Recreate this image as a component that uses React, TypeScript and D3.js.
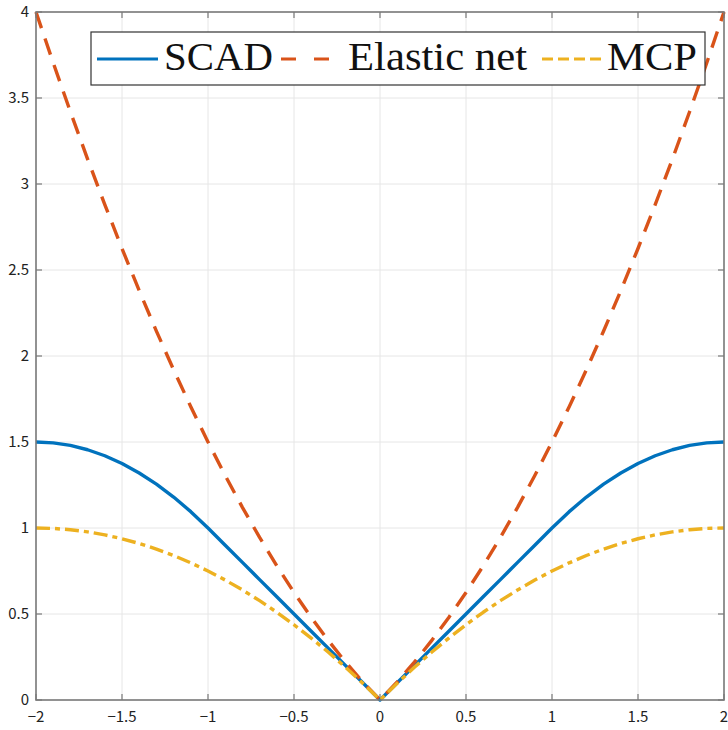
import React from "react";
import * as d3 from "d3";

const xs = [-2, -1.9, -1.8, -1.7, -1.6, -1.5, -1.4, -1.3, -1.2, -1.1, -1, -0.9, -0.8, -0.7, -0.6, -0.5, -0.4, -0.3, -0.2, -0.1, 0,
  0.1, 0.2, 0.3, 0.4, 0.5, 0.6, 0.7, 0.8, 0.9, 1, 1.1, 1.2, 1.3, 1.4, 1.5, 1.6, 1.7, 1.8, 1.9, 2];

const scad = [1.5, 1.495, 1.48, 1.455, 1.42, 1.375, 1.32, 1.255, 1.18, 1.095, 1, 0.9, 0.8, 0.7, 0.6, 0.5, 0.4, 0.3, 0.2, 0.1, 0,
  0.1, 0.2, 0.3, 0.4, 0.5, 0.6, 0.7, 0.8, 0.9, 1, 1.095, 1.18, 1.255, 1.32, 1.375, 1.42, 1.455, 1.48, 1.495, 1.5];

const elastic = [4, 3.705, 3.42, 3.145, 2.88, 2.625, 2.38, 2.145, 1.92, 1.705, 1.5, 1.305, 1.12, 0.945, 0.78, 0.625, 0.48, 0.345, 0.22, 0.105, 0,
  0.105, 0.22, 0.345, 0.48, 0.625, 0.78, 0.945, 1.12, 1.305, 1.5, 1.705, 1.92, 2.145, 2.38, 2.625, 2.88, 3.145, 3.42, 3.705, 4];

const mcp = [1, 0.9975, 0.99, 0.9775, 0.96, 0.9375, 0.91, 0.8775, 0.84, 0.7975, 0.75, 0.6975, 0.64, 0.5775, 0.51, 0.4375, 0.36, 0.2775, 0.19, 0.0975, 0,
  0.0975, 0.19, 0.2775, 0.36, 0.4375, 0.51, 0.5775, 0.64, 0.6975, 0.75, 0.7975, 0.84, 0.8775, 0.91, 0.9375, 0.96, 0.9775, 0.99, 0.9975, 1];

const xTicks = [-2, -1.5, -1, -0.5, 0, 0.5, 1, 1.5, 2];
const yTicks = [0, 0.5, 1, 1.5, 2, 2.5, 3, 3.5, 4];

const seriesNames = ["SCAD", "Elastic net", "MCP"];

export default function App() {
  const W = 728, H = 730;
  const left = 36, right = 724, top = 12, bottom = 700;
  const x = d3.scaleLinear().domain([-2, 2]).range([left, right]);
  const y = d3.scaleLinear().domain([0, 4]).range([bottom, top]);
  const line = (vals: number[]) =>
    d3.line<number>().x((_, i) => x(xs[i])).y((v) => y(v))(vals) || "";

  const fmt = (v: number) => (v < 0 ? "\u2212" + String(-v) : String(v));
  const axisColor = "#7a7a7a";
  const tickFont = "'Noto Sans CJK JP', 'Noto Sans', sans-serif";

  const series = [
    { name: seriesNames[0], vals: scad, color: "#0072BD", dash: "none", ldash: "none" },
    { name: seriesNames[1], vals: elastic, color: "#D95319", dash: "17,11", ldash: "15,18" },
    { name: seriesNames[2], vals: mcp, color: "#EDB120", dash: "14,5,5,5", ldash: "11,5" },
  ];

  const legend = [
    { x1: 97, x2: 158, tx: 164, tl: 109 },
    { x1: 281, x2: 329, tx: 348, tl: 179 },
    { x1: 542, x2: 602, tx: 607, tl: 90 },
  ];

  return (
    <svg width={W} height={H} style={{ position: "absolute", left: 0, top: 0, background: "#fff" }}>
      <rect x={0} y={0} width={W} height={H} fill="#fff" />
      {/* grid */}
      {xTicks.map((t) => (
        <line key={"gx" + t} x1={x(t)} x2={x(t)} y1={top} y2={bottom} stroke="#e6e6e6" strokeWidth={1} />
      ))}
      {yTicks.map((t) => (
        <line key={"gy" + t} x1={left} x2={right} y1={y(t)} y2={y(t)} stroke="#e6e6e6" strokeWidth={1} />
      ))}
      {/* ticks inward */}
      {xTicks.map((t) => (
        <g key={"tx" + t}>
          <line x1={x(t)} x2={x(t)} y1={bottom} y2={bottom - 6} stroke={axisColor} strokeWidth={1.2} />
          <line x1={x(t)} x2={x(t)} y1={top} y2={top + 6} stroke={axisColor} strokeWidth={1.2} />
        </g>
      ))}
      {yTicks.map((t) => (
        <g key={"ty" + t}>
          <line x1={left} x2={left + 6} y1={y(t)} y2={y(t)} stroke={axisColor} strokeWidth={1.2} />
          <line x1={right} x2={right - 6} y1={y(t)} y2={y(t)} stroke={axisColor} strokeWidth={1.2} />
        </g>
      ))}
      {/* curves */}
      {series.map((s) => (
        <path key={s.name} d={line(s.vals)} fill="none" stroke={s.color} strokeWidth={3.4}
          strokeDasharray={s.dash} strokeLinejoin="round" />
      ))}
      {/* frame */}
      <rect x={left} y={top} width={right - left} height={bottom - top} fill="none" stroke={axisColor} strokeWidth={1.6} />
      {/* tick labels */}
      {xTicks.map((t) => (
        <text key={"lx" + t} x={x(t)} y={722} textAnchor="middle" fontFamily={tickFont} fontSize={15} fill="#222">
          {fmt(t)}
        </text>
      ))}
      {yTicks.map((t) => (
        <text key={"ly" + t} x={29} y={y(t)} dy="0.35em" textAnchor="end" fontFamily={tickFont} fontSize={15} fill="#222">
          {fmt(t)}
        </text>
      ))}
      {/* legend */}
      <rect x={91} y={32} width={614} height={53} fill="#fff" stroke="#333" strokeWidth={1.2} />
      {series.map((s, i) => (
        <g key={"lg" + s.name}>
          <line x1={legend[i].x1} x2={legend[i].x2} y1={59} y2={59} stroke={s.color} strokeWidth={3.2}
            strokeDasharray={s.ldash} />
          <text x={legend[i].tx} y={70} fontFamily="'Liberation Serif', 'DejaVu Serif', serif" fontSize={41} fill="#111"
            textLength={legend[i].tl} lengthAdjust="spacingAndGlyphs">
            {s.name}
          </text>
        </g>
      ))}
    </svg>
  );
}
